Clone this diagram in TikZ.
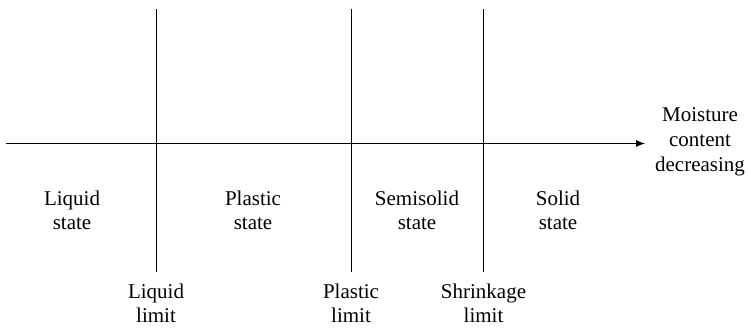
\documentclass[tikz,border=0pt]{standalone}
\usepackage{fontspec}
\setmainfont{Liberation Serif}
\usetikzlibrary{arrows.meta}
\begin{document}
\begin{tikzpicture}[x=1pt,y=-1pt,
  lbl/.style={align=center,inner sep=0pt,anchor=base,font=\fontsize{21}{24.3}\selectfont},
  ln/.style={line width=0.9pt}]
\useasboundingbox (0,0) rectangle (748,328);
% axis
\coordinate (a0) at (6,143.5);
\coordinate (a1) at (645,143.5);
\draw[ln,-{Latex[length=9pt,width=7pt]}] (a0) -- (a1);
\node[lbl,font=\fontsize{21}{25}\selectfont] (mc) at (700,171.5) {Moisture\\content\\decreasing};
% verticals
\coordinate (l1t) at (156,9);   \coordinate (l1b) at (156,272.5);
\coordinate (l2t) at (351,9);   \coordinate (l2b) at (351,272.5);
\coordinate (l3t) at (483.5,9); \coordinate (l3b) at (483.5,272.5);
\draw[ln] (l1t) -- (l1b);
\draw[ln] (l2t) -- (l2b);
\draw[ln] (l3t) -- (l3b);
% states
\node[lbl] (ls) at (72,230) {Liquid\\state};
\node[lbl] (ps) at (253,230) {Plastic\\state};
\node[lbl] (ss) at (417,230) {Semisolid\\state};
\node[lbl] (sos) at (558,230) {Solid\\state};
% limits
\node[lbl] (ll) at (156,322.5) {Liquid\\limit};
\node[lbl] (pl) at (351,322.5) {Plastic\\limit};
\node[lbl] (sl) at (483.5,322.5) {Shrinkage\\limit};
\end{tikzpicture}
\end{document}
